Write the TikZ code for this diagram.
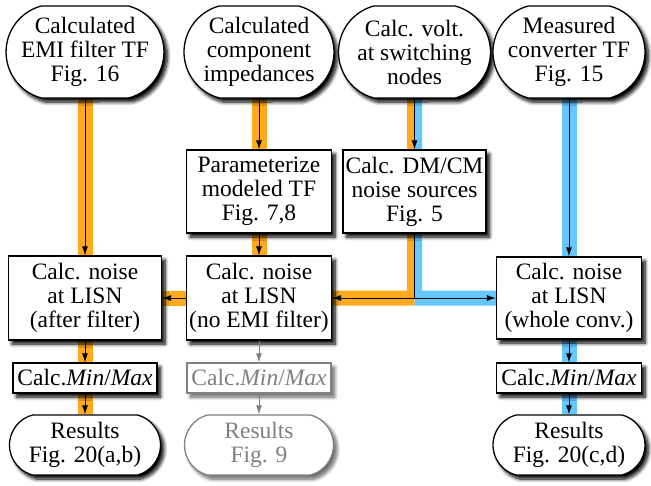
\documentclass[tikz,border=0pt]{standalone}
\usepackage{fontspec}
\setmainfont{Liberation Serif}
\newfontfamily\diagfont{Liberation Serif}
\usetikzlibrary{shapes.misc,arrows.meta,calc,shadows.blur}
\pgfdeclarelayer{background}
\pgfsetlayers{background,main}
\definecolor{bandO}{RGB}{255,170,30}
\definecolor{bandB}{RGB}{100,200,255}
\definecolor{fadeg}{RGB}{128,128,128}
\begin{document}
\begin{tikzpicture}[x=1pt,y=-1pt,
  base/.style={draw, line width=1.3pt, fill=white, inner sep=0pt, align=center,
    font=\diagfont\fontsize{23.5}{24}\selectfont,
    blur shadow={shadow xshift=3.5pt, shadow yshift=-4pt, shadow blur radius=3.5pt, shadow blur steps=8, shadow opacity=100}},
  term/.style={base, rounded rectangle, rounded rectangle arc length=150},
  procbox/.style={base, rectangle},
  faded/.style={draw=fadeg, text=fadeg, blur shadow={shadow xshift=3.5pt, shadow yshift=-4pt, shadow blur radius=3.5pt, shadow blur steps=8, shadow opacity=35}},
  arr/.style={line width=0.9pt, -{Latex[length=9pt,width=6pt]}},
  farr/.style={arr, draw=fadeg},
  bando/.style={draw=bandO, line width=15pt},
  bandb/.style={draw=bandB, line width=15pt}
]
\useasboundingbox (0,0) rectangle (651,485);
% top terminals
\node[term, minimum width=154, minimum height=92] (top1) at (85,52) {Calculated\\EMI filter TF\\Fig. 16};
\node[term, minimum width=150, minimum height=92] (top2) at (259,52) {Calculated\\component\\impedances};
\node[term, minimum width=152, minimum height=92] (top3) at (414.5,52) {Calc. volt.\\at switching\\nodes};
\node[term, minimum width=152, minimum height=92] (top4) at (569,52) {Measured\\converter TF\\Fig. 15};
% second row
\node[procbox, minimum width=145, minimum height=83] (param) at (259,191.5) {Parameterize\\modeled TF\\Fig. 7,8};
\node[procbox, minimum width=143, minimum height=83] (dmcm) at (414.5,191.5) {Calc. DM/CM\\noise sources\\Fig. 5};
% third row
\node[procbox, minimum width=153, minimum height=84] (afterf) at (85,298) {Calc. noise\\at LISN\\(after filter)};
\node[procbox, minimum width=145, minimum height=84] (noemi) at (259,298) {Calc. noise\\at LISN\\(no EMI filter)};
\node[procbox, minimum width=145, minimum height=82] (whole) at (569,298) {Calc. noise\\at LISN\\(whole conv.)};
% min/max row
\node[procbox, minimum width=144, minimum height=30] (mm1) at (85,378) {Calc.\textit{Min}/\textit{Max}};
\node[procbox, faded, minimum width=144, minimum height=30] (mm2) at (259,378) {Calc.\textit{Min}/\textit{Max}};
\node[procbox, minimum width=145, minimum height=30] (mm4) at (569,378) {Calc.\textit{Min}/\textit{Max}};
% results
\node[term, minimum width=151, minimum height=60] (res1) at (85,445) {Results\\Fig. 20(a,b)};
\node[term, faded, minimum width=149, minimum height=60] (res2) at (259,445) {Results\\Fig. 9};
\node[term, minimum width=152, minimum height=60] (res4) at (569,445) {Results\\Fig. 20(c,d)};
% bands
\begin{pgfonlayer}{background}
\draw[bando] (top1.south) -- (res1.north);
\draw[bando] (top2.south) -- (noemi.north);
\draw[bando] (noemi.west) -- (afterf.east);
\draw[bandb] (top4.south) -- (res4.north);
\fill[bandO] ($(top3.south)+(-7.5,0)$) -- (top3.south) |- ($(noemi.east)+(0,7.5)$)
  -- ($(noemi.east)+(0,-7.5)$) -| ($(top3.south)+(-7.5,0)$) -- cycle;
\fill[bandB] (top3.south) -- ($(top3.south)+(7.5,0)$) |- ($(whole.west)+(0,-7.5)$)
  -- ($(whole.west)+(0,7.5)$) -| (top3.south) -- cycle;
\end{pgfonlayer}
% arrows
\draw[arr] (top1.south) -- (afterf.north);
\draw[arr] (afterf.south) -- (mm1.north);
\draw[arr] (mm1.south) -- (res1.north);
\draw[arr] (top2.south) -- (param.north);
\draw[arr] (param.south) -- (noemi.north);
\draw[arr] (noemi.west) -- (afterf.east);
\draw[farr] (noemi.south) -- (mm2.north);
\draw[farr] (mm2.south) -- (res2.north);
\draw[arr] (top3.south) -- (dmcm.north);
\draw[arr] (dmcm.south) |- (noemi.east);
\draw[arr] (dmcm.south) |- (whole.west);
\draw[arr] (top4.south) -- (whole.north);
\draw[arr] (whole.south) -- (mm4.north);
\draw[arr] (mm4.south) -- (res4.north);
\end{tikzpicture}
\end{document}
